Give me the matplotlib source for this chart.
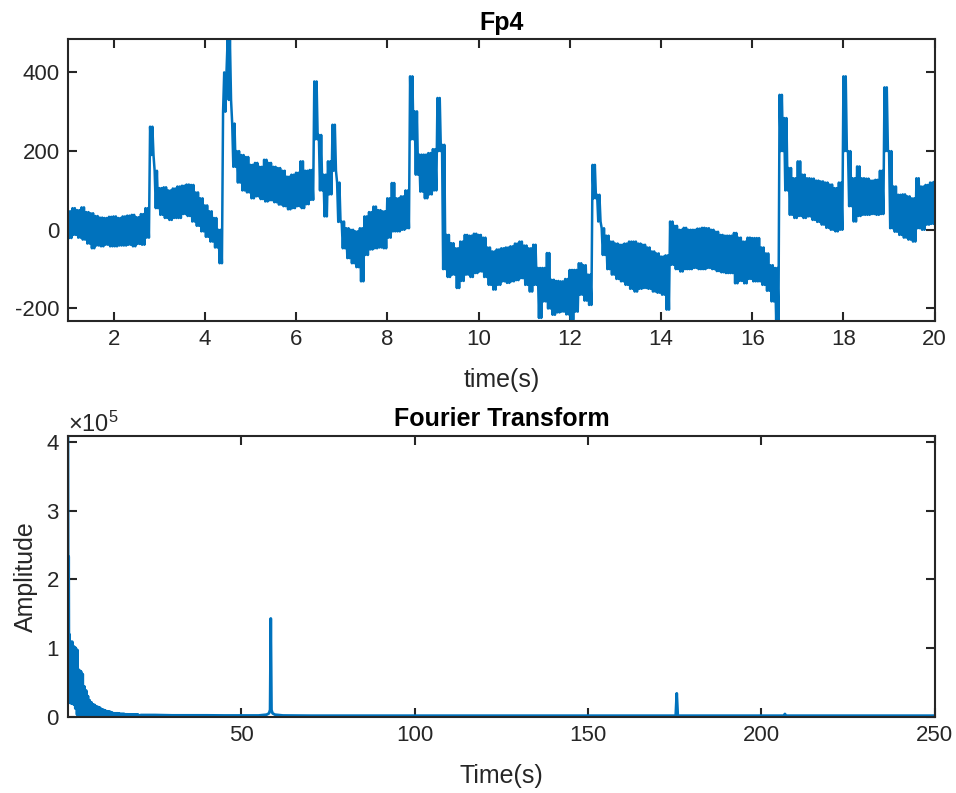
"""Fp4 channel: raw signal (top) and its Fourier transform (bottom)."""

import numpy as np
import matplotlib
matplotlib.use("Agg")
import matplotlib.pyplot as plt

plt.rcParams["font.family"] = ["Liberation Sans", "DejaVu Sans"]
plt.rcParams["axes.unicode_minus"] = False
plt.rcParams["mathtext.fontset"] = "custom"
plt.rcParams["mathtext.rm"] = "Liberation Sans"
plt.rcParams["mathtext.it"] = "Liberation Sans:italic"

LINE = "#0072BD"
GREY = "#262626"

# ---- top panel: signal envelope read every 0.1 s from t = 1 s to 20 s ----
# upper / lower extent of the noisy trace inside each 0.1 s slot
sig_start = 1.0
sig_step = 0.1
sig_hi = [
    47, 55, 50, 57, 45, 42, 35, 31, 30, 33,             # 1.0
    34, 30, 34, 36, 38, 32, 40, 55, 262, 150,           # 2.0
    106, 108, 100, 105, 110, 112, 115, 114, 95, 80,     # 3.0
    62, 47, 30, 0, 300, 484, 270, 200, 190, 185,        # 4.0
    165, 170, 160, 178, 170, 160, 157, 150, 135, 140,   # 5.0
    145, 174, 150, 152, 377, 241, 140, 174, 267, 120,   # 6.0
    21, 4, 0, -4, 4, 34, 45, 59, 50, 47,                # 7.0
    80, 119, 80, 85, 100, 390, 301, 191, 191, 195,      # 8.0
    205, 335, 216, -13, -34, -47, -30, -13, -15, -10,   # 9.0
    -13, -20, -45, -55, -50, -47, -45, -42, -35, -30,   # 10.0
    -40, -47, -38, -97, -97, -59, -127, -130, -131, -125,  # 11.0
    -102, -102, -85, -90, -114, 165, 89, 4, -15, -30,   # 12.0
    -35, -38, -35, -30, -30, -35, -38, -45, -55, -60,   # 13.0
    -68, -65, 21, 10, 0, 5, 0, 0, 3, 5,                 # 14.0
    4, 0, -5, -13, -15, -15, -8, -20, -30, -20,         # 15.0
    -21, -21, -45, -60, -90, -97, 343, 284, 157, 131,   # 16.0
    174, 140, 131, 130, 125, 123, 120, 115, 106, 120,   # 17.0
    390, 200, 131, 161, 131, 130, 125, 127, 150, 362,   # 18.0
    200, 110, 89, 90, 85, 80, 131, 110, 114, 120,       # 19.0
    123,                                                # 20.0
]
sig_lo = [
    -21, -13, -20, -25, -35, -47, -40, -42, -38, -42,
    -42, -40, -40, -38, -42, -36, -38, -20, 190, 55,
    38, 30, 25, 30, 30, 40, 35, 21, 10, -4,
    -18, -30, -45, -85, 400, 330, 160, 120, 100, 95,
    80, 85, 78, 72, 75, 70, 64, 60, 52, 55,
    60, 55, 65, 76, 230, 100, 34, 90, 150, 20,
    -47, -72, -85, -95, -131, -64, -50, -47, -45, -47,
    -20, -4, -4, 0, 4, 230, 140, 97, 80, 90,
    100, 200, -100, -120, -114, -148, -130, -114, -120, -110,
    -106, -120, -140, -152, -140, -131, -135, -131, -128, -123,
    -140, -157, -140, -224, -182, -200, -216, -210, -208, -215,
    -229, -208, -165, -180, -191, 80, 21, -64, -100, -114,
    -125, -131, -140, -150, -157, -150, -148, -150, -157, -160,
    -165, -203, -89, -100, -106, -100, -100, -97, -100, -100,
    -97, -100, -105, -108, -110, -110, -136, -130, -136, -125,
    -131, -131, -140, -155, -182, -229, 200, 100, 38, 30,
    35, 30, 34, 25, 20, 13, 5, 0, -4, 0,
    200, 60, 21, 35, 38, 38, 40, 38, 40, 200,
    4, -5, -13, -20, -25, -30, 4, 0, 13, 15,
    21,
]

# ---- bottom panel: spectrum ----
# near-DC samples
dc_freq = [0.0, 0.1, 0.2, 0.3, 0.4]
dc_amp = [409000, 60000, 233000, 30000, 120000]
# low-frequency band read every 0.5 Hz (0.5 .. 20 Hz)
band_start = 0.5
band_step = 0.5
band_hi = [
    105000, 109000, 102000, 100000, 97000, 68000, 66000, 62000, 44000, 38000,
    30000, 24000, 21000, 18000, 17000, 15000, 14000, 13000, 11000, 10000,
    9000, 8000, 7500, 7000, 6000, 5000, 5000, 5000, 4500, 4000,
    4000, 4000, 3500, 3500, 3000, 3000, 3000, 3000, 3000, 3000,
]
band_lo = [
    20000, 19000, 18000, 12000, 3000, 2000, 1500, 1000, 1000, 800,
    800, 600, 500, 500, 500, 400, 400, 300, 300, 300,
    300, 200, 200, 200, 200, 200, 200, 200, 100, 100,
    100, 100, 100, 100, 100, 0, 0, 0, 0, 0,
]
# noise floor with the mains line and its harmonic
floor_freq = [21, 25, 30, 35, 40, 45, 50, 55, 57.3, 58.0, 58.3, 58.5, 58.7,
              59.0, 59.7, 62, 70, 80, 90, 100, 110, 120, 130, 140, 150, 160,
              170, 175.3, 175.6, 175.9, 180, 190, 200, 206.5, 206.8, 207.1,
              215, 225, 235, 245, 250]
floor_amp = [2500, 2500, 2000, 2000, 2000, 1800, 1800, 1800, 3000, 5000,
             10000, 143000, 10000, 5000, 3000, 1800, 1500, 1500, 1500, 1500,
             1500, 1500, 1500, 1500, 1500, 1500, 1500, 1500, 34000, 1500,
             1500, 1500, 1500, 1500, 4000, 1500, 1500, 1500, 1500, 1500, 1500]


def sweep(start, step, hi, lo, passes):
    """Line that swings between each slot's upper and lower extent `passes` times."""
    n = len(hi)
    k = 2 * passes
    t = start + step * np.arange(n)
    x = (t[:, None] + step * np.arange(k)[None, :] / k).ravel()
    y = np.where(np.arange(k)[None, :] % 2 == 0,
                 np.asarray(hi)[:, None], np.asarray(lo)[:, None]).ravel()
    return x, y


def style(ax):
    for s in ax.spines.values():
        s.set_linewidth(1.5)
        s.set_color(GREY)
    ax.tick_params(direction="in", length=6.5, width=1.5, top=True, right=True,
                   labelsize=16, colors=GREY, pad=6)


fig = plt.figure(figsize=(9.56, 7.93), dpi=100)
ax1 = fig.add_axes([0.0711, 0.5956, 0.9066, 0.3548])
ax2 = fig.add_axes([0.0711, 0.0962, 0.9066, 0.3544])

# top
sx, sy = sweep(sig_start, sig_step, sig_hi, sig_lo, 2)
ax1.plot(sx, sy, color=LINE, linewidth=1.8)
ax1.set_xlim(1, 20)
ax1.set_ylim(-231, 484)
ax1.set_xticks(np.arange(2, 21, 2))
ax1.set_yticks([-200, 0, 200, 400])
ax1.set_xlabel("time(s)", fontsize=18, color=GREY, labelpad=13)
ax1.set_title("Fp4", fontsize=18, fontweight="bold", pad=7)
style(ax1)

# bottom
bx, by = sweep(band_start, band_step, band_hi, band_lo, 2)
fx = np.concatenate([dc_freq, bx, floor_freq])
fy = np.concatenate([dc_amp, by, floor_amp])
ax2.plot(fx, fy, color=LINE, linewidth=2.0)
ax2.set_xlim(0, 250)
ax2.set_ylim(0, 409000)
ax2.set_xticks([50, 100, 150, 200, 250])
ax2.set_yticks([0, 100000, 200000, 300000, 400000])
ax2.ticklabel_format(axis="y", style="sci", scilimits=(5, 5), useMathText=True)
ax2.yaxis.get_offset_text().set_fontsize(17)
ax2.yaxis.get_offset_text().set_color(GREY)
ax2.set_xlabel("Time(s)", fontsize=18, color=GREY, labelpad=13)
ax2.set_ylabel("Amplitude", fontsize=18, color=GREY, labelpad=6)
ax2.set_title("Fourier Transform", fontsize=18, fontweight="bold", pad=7)
style(ax2)

fig.savefig("out.png", dpi=100)
